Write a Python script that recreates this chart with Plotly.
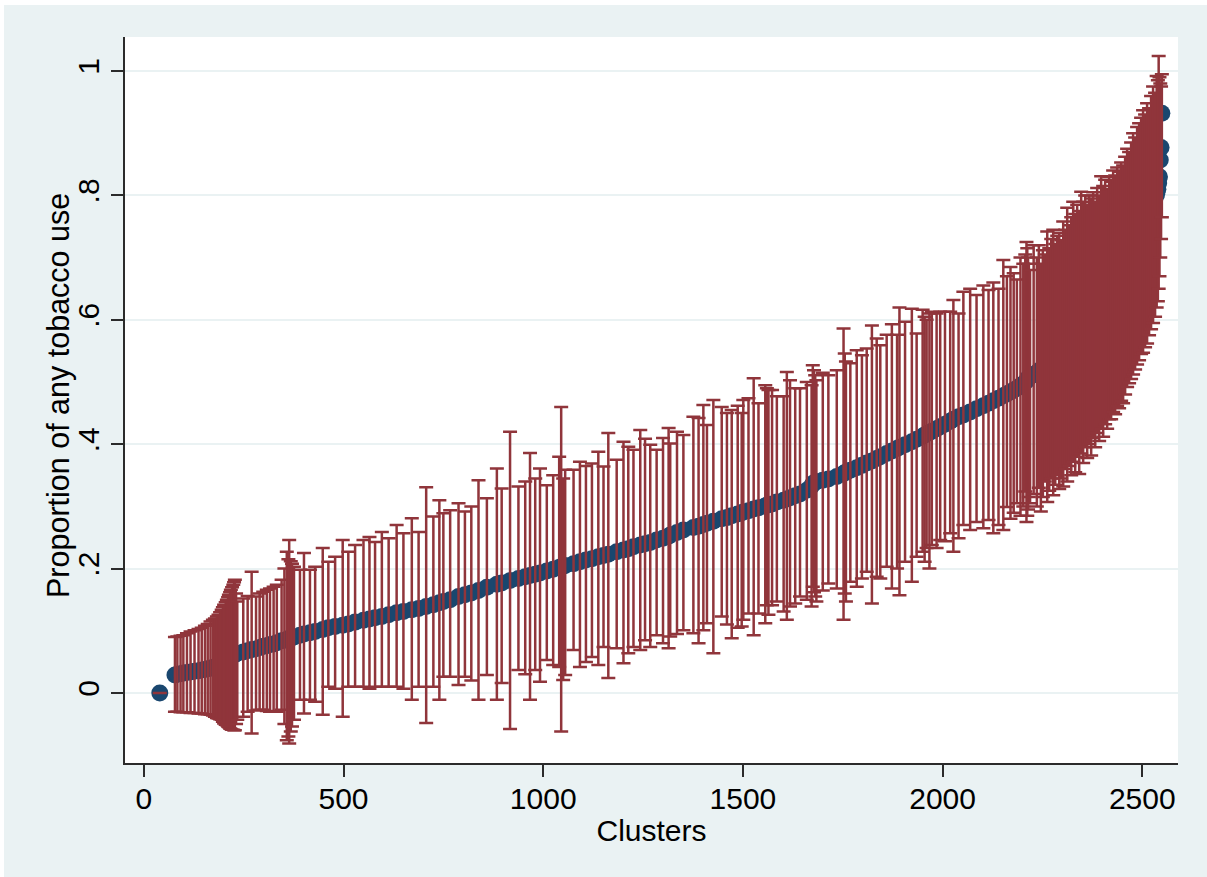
import numpy as np
import plotly.graph_objects as go

# ---------------- data ----------------
cluster = [
    40,
    78, 84, 92, 99, 108, 117, 127, 137, 145, 153, 160, 167, 173, 178, 183, 187, 191, 195, 198,
    201, 205, 208, 211, 213, 216, 218, 221, 224, 226, 228, 231, 234,
    249, 260, 270, 281, 290, 299, 308, 316, 325, 333, 345, 352, 358, 362, 364, 368, 371, 376,
    391, 401, 416, 429, 448, 462, 479, 498, 512, 529, 550, 565, 579, 596, 613, 633, 650, 671,
    688, 707, 725, 740, 750, 767, 788, 804, 820, 838, 859, 884, 896, 917, 938, 955, 967, 980,
    992, 1009, 1025, 1040, 1045, 1050, 1055, 1076, 1092, 1107, 1122, 1138, 1151, 1163, 1184,
    1201, 1213, 1226, 1243, 1255, 1268, 1284, 1300, 1314, 1318, 1335, 1351, 1376, 1389, 1401,
    1410, 1426, 1447, 1460, 1472, 1487, 1497, 1501,
    1514, 1527, 1539, 1556, 1560, 1564, 1573, 1585, 1602, 1610, 1618, 1631, 1643, 1660, 1672,
    1675, 1678, 1681, 1684, 1700, 1714, 1735, 1752, 1755, 1758, 1769, 1785, 1798, 1810, 1823,
    1835, 1844, 1860, 1873, 1886, 1892, 1906, 1923, 1935, 1950, 1955, 1960, 1967, 1973, 1985,
    1994, 2006, 2019, 2027, 2040,
    2052, 2069, 2085, 2102, 2115, 2127, 2140, 2152, 2161, 2170, 2178, 2186, 2195, 2202, 2207,
    2210, 2212, 2214, 2216, 2219, 2228,
    2236, 2241, 2246, 2251, 2256, 2262, 2267, 2272, 2277, 2282, 2287, 2292, 2297, 2302, 2307,
    2312, 2317, 2322, 2327, 2332, 2337, 2342, 2347, 2352, 2357, 2362, 2367, 2372, 2377, 2382,
    2387, 2392, 2397, 2402, 2407, 2412, 2417, 2422, 2427, 2432, 2437, 2442, 2447, 2452, 2457,
    2462, 2467, 2472, 2477, 2482, 2487, 2492, 2497, 2502, 2507, 2512, 2517, 2522, 2527, 2532,
    2536, 2539, 2541, 2543, 2545, 2547, 2549,
]

prop = [
    0.000,
    0.029, 0.030, 0.031, 0.032, 0.033, 0.034, 0.035, 0.036, 0.037, 0.038, 0.039, 0.040, 0.041, 0.042, 0.044, 0.046, 0.048, 0.050, 0.051,
    0.052, 0.054, 0.055, 0.056, 0.057, 0.058, 0.059, 0.060, 0.061, 0.062, 0.062, 0.063, 0.064,
    0.066, 0.068, 0.070, 0.071, 0.073, 0.075, 0.076, 0.078, 0.079, 0.081, 0.084, 0.085, 0.086, 0.087, 0.088, 0.089, 0.089, 0.090,
    0.093, 0.095, 0.097, 0.099, 0.102, 0.105, 0.107, 0.109, 0.111, 0.114, 0.117, 0.119, 0.121, 0.123, 0.126, 0.129, 0.131, 0.134,
    0.136, 0.139, 0.142, 0.145, 0.147, 0.150, 0.155, 0.158, 0.161, 0.165, 0.170, 0.175, 0.177, 0.181, 0.184, 0.187, 0.189, 0.191,
    0.193, 0.196, 0.199, 0.202, 0.203, 0.204, 0.205, 0.208, 0.211, 0.214, 0.216, 0.219, 0.221, 0.223, 0.227,
    0.230, 0.232, 0.235, 0.238, 0.240, 0.242, 0.246, 0.249, 0.252, 0.254, 0.258, 0.262, 0.266, 0.268, 0.271,
    0.273, 0.276, 0.280, 0.282, 0.285, 0.288, 0.290, 0.291,
    0.293, 0.296, 0.298, 0.301, 0.302, 0.303, 0.304, 0.307, 0.310, 0.312, 0.314, 0.317, 0.320, 0.326, 0.333,
    0.336, 0.338, 0.339, 0.340, 0.342, 0.344, 0.348, 0.353, 0.354, 0.355, 0.358, 0.362, 0.366, 0.370, 0.373,
    0.377, 0.380, 0.385, 0.389, 0.393, 0.395, 0.399, 0.404, 0.408, 0.413, 0.415, 0.417, 0.419, 0.421, 0.425,
    0.428, 0.432, 0.437, 0.440, 0.444,
    0.447, 0.452, 0.457, 0.462, 0.466, 0.470, 0.474, 0.478, 0.481, 0.484, 0.487, 0.490, 0.494, 0.497, 0.500,
    0.502, 0.504, 0.506, 0.508, 0.509, 0.512,
    0.515, 0.518, 0.520, 0.523, 0.526, 0.529, 0.532, 0.535, 0.538, 0.541, 0.545, 0.548, 0.552, 0.555, 0.559,
    0.562, 0.566, 0.570, 0.574, 0.578, 0.582, 0.586, 0.590, 0.594, 0.598, 0.602, 0.606, 0.611, 0.615, 0.620,
    0.624, 0.629, 0.634, 0.639, 0.644, 0.649, 0.654, 0.659, 0.664, 0.669, 0.675, 0.680, 0.686, 0.692, 0.698,
    0.704, 0.710, 0.716, 0.722, 0.728, 0.735, 0.742, 0.749, 0.756, 0.763, 0.770, 0.777, 0.784, 0.790, 0.796,
    0.802, 0.810, 0.820, 0.830, 0.857, 0.877, 0.932,
]

ci_high = [
    0.000,
    0.090, 0.091, 0.092, 0.093, 0.096, 0.099, 0.101, 0.103, 0.105, 0.108, 0.111, 0.115, 0.118, 0.120, 0.123, 0.126, 0.130, 0.134, 0.138,
    0.142, 0.146, 0.150, 0.154, 0.158, 0.162, 0.166, 0.170, 0.174, 0.178, 0.182, 0.160, 0.147,
    0.152, 0.156, 0.195, 0.155, 0.160, 0.163, 0.166, 0.168, 0.171, 0.174, 0.182, 0.200, 0.227, 0.215, 0.246, 0.212, 0.208, 0.203,
    0.198, 0.225, 0.198, 0.203, 0.233, 0.211, 0.219, 0.246, 0.227, 0.238, 0.246, 0.251, 0.243, 0.259, 0.249, 0.270, 0.257, 0.281,
    0.259, 0.331, 0.284, 0.310, 0.289, 0.294, 0.305, 0.292, 0.300, 0.342, 0.313, 0.361, 0.329, 0.420, 0.332, 0.340, 0.386, 0.345,
    0.361, 0.334, 0.350, 0.380, 0.460, 0.345, 0.359, 0.359, 0.372, 0.365, 0.369, 0.388, 0.364, 0.418, 0.375,
    0.404, 0.396, 0.391, 0.423, 0.409, 0.399, 0.391, 0.410, 0.426, 0.401, 0.420, 0.415, 0.444, 0.442, 0.463,
    0.431, 0.471, 0.460, 0.450, 0.455, 0.462, 0.450, 0.471,
    0.474, 0.506, 0.466, 0.495, 0.490, 0.487, 0.487, 0.477, 0.477, 0.516, 0.503, 0.490, 0.490, 0.500, 0.495,
    0.527, 0.519, 0.511, 0.503, 0.515, 0.511, 0.519, 0.586, 0.546, 0.533, 0.530, 0.551, 0.543, 0.554, 0.591,
    0.570, 0.559, 0.576, 0.593, 0.576, 0.620, 0.597, 0.618, 0.578, 0.616, 0.605, 0.600, 0.610, 0.613, 0.610,
    0.613, 0.613, 0.613, 0.632, 0.610,
    0.645, 0.650, 0.640, 0.655, 0.648, 0.660, 0.650, 0.696, 0.670, 0.685, 0.675, 0.665, 0.700, 0.690, 0.705,
    0.725, 0.715, 0.700, 0.690, 0.680, 0.720,
    0.700, 0.720, 0.690, 0.712, 0.705, 0.742, 0.715, 0.730, 0.745, 0.722, 0.735, 0.740, 0.728, 0.758, 0.745,
    0.780, 0.752, 0.765, 0.790, 0.770, 0.785, 0.775, 0.806, 0.790, 0.800, 0.785, 0.800, 0.795, 0.805, 0.790,
    0.812, 0.800, 0.831, 0.815, 0.825, 0.810, 0.830, 0.822, 0.840, 0.832, 0.845, 0.838, 0.853, 0.848, 0.862,
    0.875, 0.870, 0.885, 0.900, 0.893, 0.910, 0.916, 0.925, 0.937, 0.930, 0.948, 0.940, 0.960, 0.975, 0.965,
    0.992, 0.985, 1.024, 0.990, 0.980, 0.975, 0.995,
]

ci_low = [
    0.000,
    -0.030, -0.030, -0.031, -0.031, -0.031, -0.032, -0.032, -0.033, -0.033, -0.034, -0.034, -0.035, -0.036, -0.038, -0.040, -0.041, -0.042, -0.043, -0.046,
    -0.049, -0.051, -0.052, -0.054, -0.055, -0.057, -0.058, -0.059, -0.059, -0.060, -0.060, -0.050, -0.043,
    -0.038, -0.030, -0.065, -0.028, -0.027, -0.027, -0.029, -0.030, -0.030, -0.030, -0.027, -0.050, -0.076, -0.070, -0.081, -0.062, -0.054, -0.043,
    -0.011, -0.033, -0.011, -0.014, -0.035, 0.010, 0.007, -0.038, 0.010, 0.010, 0.010, 0.007, 0.010, 0.010, 0.010, 0.010, 0.007, -0.011,
    0.010, -0.048, 0.010, -0.011, 0.026, 0.026, 0.013, 0.026, 0.020, -0.011, 0.029, -0.011, 0.016, -0.058, 0.037, 0.030, -0.011, 0.037,
    0.018, 0.053, 0.045, 0.042, -0.062, 0.021, 0.029, 0.069, 0.042, 0.050, 0.058, 0.045, 0.074, 0.024, 0.072,
    0.048, 0.064, 0.074, 0.069, 0.085, 0.074, 0.093, 0.080, 0.072, 0.091, 0.095, 0.101, 0.096, 0.080, 0.101,
    0.112, 0.064, 0.123, 0.110, 0.088, 0.105, 0.107, 0.118,
    0.128, 0.093, 0.128, 0.112, 0.141, 0.126, 0.141, 0.147, 0.131, 0.118, 0.139, 0.144, 0.155, 0.150, 0.139,
    0.171, 0.162, 0.155, 0.147, 0.165, 0.176, 0.168, 0.118, 0.160, 0.147, 0.179, 0.171, 0.184, 0.195, 0.144,
    0.187, 0.184, 0.203, 0.168, 0.200, 0.157, 0.211, 0.179, 0.219, 0.227, 0.211, 0.233, 0.200, 0.238, 0.233,
    0.246, 0.244, 0.257, 0.227, 0.249,
    0.270, 0.262, 0.275, 0.265, 0.278, 0.257, 0.270, 0.262, 0.299, 0.280, 0.290, 0.305, 0.285, 0.300, 0.324,
    0.275, 0.285, 0.295, 0.315, 0.305, 0.320,
    0.300, 0.330, 0.292, 0.315, 0.340, 0.307, 0.325, 0.345, 0.318, 0.335, 0.350, 0.328, 0.345, 0.332, 0.360,
    0.340, 0.365, 0.350, 0.372, 0.355, 0.380, 0.352, 0.385, 0.370, 0.395, 0.378, 0.400, 0.382, 0.410, 0.395,
    0.418, 0.405, 0.425, 0.412, 0.432, 0.425, 0.440, 0.440, 0.452, 0.448, 0.462, 0.458, 0.470, 0.466, 0.480,
    0.492, 0.498, 0.505, 0.512, 0.520, 0.528, 0.535, 0.545, 0.547, 0.556, 0.562, 0.575, 0.585, 0.595, 0.605,
    0.620, 0.630, 0.650, 0.670, 0.700, 0.730, 0.765,
]

x_ticks = [0, 500, 1000, 1500, 2000, 2500]
y_ticks = [0, 0.2, 0.4, 0.6, 0.8, 1.0]
y_tick_labels = ["0", ".2", ".4", ".6", ".8", "1"]

# ---------------- style ----------------
NAVY = "#1A476F"
MAROON = "#90353B"
BG = "#EAF2F3"
AXIS = "#2b2b2b"
FONT = "Liberation Sans, Arial, sans-serif"

p = np.array(prop)
hi = np.array(ci_high)
lo = np.array(ci_low)

fig = go.Figure()
fig.add_trace(go.Scatter(
    x=cluster, y=prop, mode="markers",
    marker=dict(color=NAVY, size=17, line=dict(width=0)),
    showlegend=False, hoverinfo="skip",
))
fig.add_trace(go.Scatter(
    x=cluster, y=prop, mode="markers",
    marker=dict(color="rgba(0,0,0,0)", size=1),
    error_y=dict(type="data", symmetric=False, array=hi - p, arrayminus=p - lo,
                 color=MAROON, thickness=2.5, width=7),
    showlegend=False, hoverinfo="skip",
))

fig.update_layout(
    width=1207, height=877,
    margin=dict(l=125, r=29, t=37, b=114),
    paper_bgcolor=BG, plot_bgcolor="white",
    font=dict(family=FONT, size=30, color="black"),
    xaxis=dict(
        range=[-47.1, 2589.4], tickvals=x_ticks,
        ticks="outside", ticklen=12, tickwidth=1.5, tickcolor=AXIS,
        ticklabelstandoff=-4,
        showline=True, linecolor=AXIS, linewidth=2, mirror=False,
        showgrid=False, zeroline=False,
        tickfont=dict(family=FONT, size=30, color="black"),
        title=dict(text="Clusters", standoff=6, font=dict(family=FONT, size=30, color="black")),
    ),
    yaxis=dict(
        range=[-0.1125, 1.0547], tickvals=y_ticks, ticktext=y_tick_labels,
        tickangle=-90,
        ticks="outside", ticklen=12, tickwidth=1.5, tickcolor=AXIS,
        showline=True, linecolor=AXIS, linewidth=2,
        showgrid=True, gridcolor=BG, gridwidth=1.5, zeroline=False,
        tickfont=dict(family=FONT, size=30, color="black"),
    ),
    annotations=[
        dict(text="Proportion of any tobacco use", textangle=-90,
             xref="paper", yref="paper", x=(58.5 - 125) / 1053, y=(763 - 395.5) / 726,
             xanchor="center", yanchor="middle", showarrow=False,
             font=dict(family=FONT, size=30.5, color="black")),
    ],
    shapes=[
        dict(type="rect", xref="paper", yref="paper", x0=-0.2, x1=1.2,
             y0=(763 - 5) / 726, y1=1.2, fillcolor="white", line=dict(width=0), layer="below"),
        dict(type="rect", xref="paper", yref="paper", x0=-0.2, x1=(4 - 125) / 1053,
             y0=-0.3, y1=1.2, fillcolor="white", line=dict(width=0), layer="below"),
    ],
)

fig.write_html("out.html")
